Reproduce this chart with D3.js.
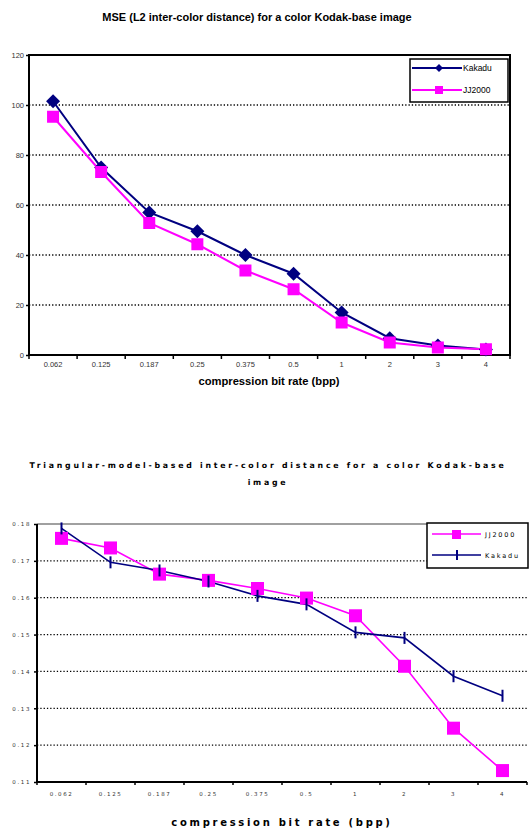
<!DOCTYPE html>
<html><head><meta charset="utf-8">
<script src="https://cdn.jsdelivr.net/npm/d3@7"></script>
<style>body{margin:0;background:#fff}svg{display:block}</style>
</head><body><svg id="c" width="529" height="829"></svg>
<script>
const categories = ["0.062","0.125","0.187","0.25","0.375","0.5","1","2","3","4"];
const mseKakadu = [101.5,75,57,49.5,40,32.5,17,6.7,3.8,2.2];
const mseJJ2000 = [95.3,73.2,52.8,44.3,33.8,26.3,13,5,3,2.3];
const mseTicks = [0,20,40,60,80,100,120];
const triJJ2000 = [0.1761,0.1735,0.1664,0.1647,0.1625,0.1599,0.1551,0.1414,0.1246,0.1131];
const triKakadu = [0.1788,0.1696,0.1674,0.1644,0.1605,0.1582,0.1506,0.1491,0.1387,0.1334];
const triTicks = [0.11,0.12,0.13,0.14,0.15,0.16,0.17,0.18];

const NAVY = "#000080", MAG = "#ff00ff";
const svg = d3.select("#c");
const diamond = r => `M0,${-r}L${r},0L0,${r}L${-r},0Z`;

// ---------- Chart 1 ----------
{
  const L=29,R=510,T=55,B=355;
  const g = svg.append("g");
  const x = d3.scaleBand().domain(categories).range([L,R]);
  const y = d3.scaleLinear().domain([0,120]).range([B,T]);
  g.append("text").attr("x",257).attr("y",21).attr("text-anchor","middle")
    .attr("font-family","Liberation Sans, Arial").attr("font-weight","bold").attr("font-size",11)
    .text("MSE (L2 inter-color distance) for a color Kodak-base image");
  g.selectAll(".gl").data(mseTicks.filter(d=>d>0&&d<120)).enter().append("line")
    .attr("x1",L).attr("x2",R).attr("y1",d=>y(d)).attr("y2",d=>y(d))
    .attr("stroke","#000").attr("stroke-width",1.3).attr("stroke-dasharray","1.3,2");
  g.append("rect").attr("x",L).attr("y",T).attr("width",R-L).attr("height",B-T)
    .attr("fill","none").attr("stroke","#000").attr("stroke-width",2);
  const ya = d3.axisLeft(y).tickValues(mseTicks).tickSize(3).tickFormat(d3.format("d"));
  const yg = g.append("g").attr("transform",`translate(${L},0)`).call(ya);
  yg.select(".domain").remove();
  yg.selectAll("line").attr("stroke","#000").attr("stroke-width",1.5);
  yg.selectAll("text").attr("font-family","Liberation Sans, Arial").attr("font-size",7.5).attr("fill","#333").attr("x",-5);
  const xa = d3.axisBottom(x).tickSize(0);
  const xg = g.append("g").attr("transform",`translate(0,${B})`).call(xa);
  xg.select(".domain").remove();
  xg.selectAll("text").attr("font-family","Liberation Sans, Arial").attr("font-size",7.5).attr("fill","#333").attr("dy","0.9em").attr("y",5);
  g.selectAll(".xt").data(d3.range(categories.length+1)).enter().append("line")
    .attr("x1",i=>L+i*x.step()).attr("x2",i=>L+i*x.step()).attr("y1",B).attr("y2",B+4)
    .attr("stroke","#000").attr("stroke-width",1.5);
  g.append("text").attr("x",269).attr("y",385).attr("text-anchor","middle")
    .attr("font-family","Liberation Sans, Arial").attr("font-weight","bold").attr("font-size",11.2)
    .text("compression bit rate (bpp)");
  const cx = d=>x(d)+x.bandwidth()/2;
  const line = d3.line().x((d,i)=>cx(categories[i])).y(d=>y(d));
  g.append("path").attr("d",line(mseKakadu)).attr("fill","none").attr("stroke",NAVY).attr("stroke-width",2);
  g.append("path").attr("d",line(mseJJ2000)).attr("fill","none").attr("stroke",MAG).attr("stroke-width",2);
  g.selectAll(".kd").data(mseKakadu).enter().append("path")
    .attr("d",diamond(7)).attr("transform",(d,i)=>`translate(${cx(categories[i])},${y(d)})`).attr("fill",NAVY);
  g.selectAll(".jj").data(mseJJ2000).enter().append("rect")
    .attr("x",(d,i)=>cx(categories[i])-6).attr("y",d=>y(d)-6).attr("width",12).attr("height",12).attr("fill",MAG);
  // legend
  g.append("rect").attr("x",410).attr("y",59).attr("width",98).attr("height",43).attr("fill","#fff").attr("stroke","#000").attr("stroke-width",1.5);
  g.append("line").attr("x1",412).attr("x2",462).attr("y1",68).attr("y2",68).attr("stroke",NAVY).attr("stroke-width",2);
  g.append("path").attr("d",diamond(4)).attr("transform","translate(439,68)").attr("fill",NAVY);
  g.append("text").attr("x",463).attr("y",71).attr("font-family","Liberation Sans, Arial").attr("font-size",8.5).text("Kakadu");
  g.append("line").attr("x1",412).attr("x2",462).attr("y1",90).attr("y2",90).attr("stroke",MAG).attr("stroke-width",2);
  g.append("rect").attr("x",435).attr("y",86).attr("width",8).attr("height",8).attr("fill",MAG);
  g.append("text").attr("x",463).attr("y",93).attr("font-family","Liberation Sans, Arial").attr("font-size",8.5).text("JJ2000");
}

// ---------- Chart 2 ----------
{
  const L=37,R=527,T=524,B=782;
  const g = svg.append("g");
  const x = d3.scaleBand().domain(categories).range([L,R]);
  const y = d3.scaleLinear().domain([0.11,0.18]).range([B,T]);
  g.append("text").attr("x",268).attr("y",468).attr("text-anchor","middle")
    .attr("font-family","DejaVu Sans, Verdana").attr("font-weight","bold").attr("font-size",7.8).attr("letter-spacing",2.75)
    .text("Triangular-model-based inter-color distance for a color Kodak-base");
  g.append("text").attr("x",268).attr("y",485).attr("text-anchor","middle")
    .attr("font-family","DejaVu Sans, Verdana").attr("font-weight","bold").attr("font-size",7.8).attr("letter-spacing",2.75)
    .text("image");
  g.selectAll(".gl").data(triTicks.filter(d=>d>0.111&&d<0.179)).enter().append("line")
    .attr("x1",L).attr("x2",R).attr("y1",d=>y(d)).attr("y2",d=>y(d))
    .attr("stroke","#000").attr("stroke-width",1.3).attr("stroke-dasharray","1.3,2");
  g.append("line").attr("x1",L).attr("x2",R).attr("y1",T).attr("y2",T).attr("stroke","#808080").attr("stroke-width",1.5);
  g.append("line").attr("x1",L).attr("x2",L).attr("y1",T).attr("y2",B).attr("stroke","#000").attr("stroke-width",2);
  g.append("line").attr("x1",L).attr("x2",R).attr("y1",B).attr("y2",B).attr("stroke","#000").attr("stroke-width",2);
  const ya = d3.axisLeft(y).tickValues(triTicks).tickSize(3).tickFormat(d3.format(".2f"));
  const yg = g.append("g").attr("transform",`translate(${L},0)`).call(ya);
  yg.select(".domain").remove();
  yg.selectAll("line").attr("stroke","#000").attr("stroke-width",1.5);
  yg.selectAll("text").attr("font-family","DejaVu Sans, Verdana").attr("font-size",5.5).attr("letter-spacing",1.6).attr("fill","#333").attr("x",-6);
  const xa = d3.axisBottom(x).tickSize(0);
  const xg = g.append("g").attr("transform",`translate(0,${B})`).call(xa);
  xg.select(".domain").remove();
  xg.selectAll("text").attr("font-family","DejaVu Sans, Verdana").attr("font-size",5.5).attr("letter-spacing",1.6).attr("fill","#333").attr("y",10);
  g.selectAll(".xt").data(d3.range(categories.length+1)).enter().append("line")
    .attr("x1",i=>L+i*x.step()).attr("x2",i=>L+i*x.step()).attr("y1",B).attr("y2",B+3)
    .attr("stroke","#000").attr("stroke-width",1.5);
  g.append("text").attr("x",282).attr("y",826).attr("text-anchor","middle")
    .attr("font-family","DejaVu Sans, Verdana").attr("font-weight","bold").attr("font-size",10).attr("letter-spacing",2.7)
    .text("compression bit rate (bpp)");
  const cx = d=>x(d)+x.bandwidth()/2;
  const line = d3.line().x((d,i)=>cx(categories[i])).y(d=>y(d));
  g.append("path").attr("d",line(triJJ2000)).attr("fill","none").attr("stroke",MAG).attr("stroke-width",1.6);
  g.append("path").attr("d",line(triKakadu)).attr("fill","none").attr("stroke",NAVY).attr("stroke-width",1.6);
  g.selectAll(".jj").data(triJJ2000).enter().append("rect")
    .attr("x",(d,i)=>cx(categories[i])-6.5).attr("y",d=>y(d)-6.5).attr("width",13).attr("height",13).attr("fill",MAG);
  g.selectAll(".kd").data(triKakadu).enter().append("line")
    .attr("x1",(d,i)=>cx(categories[i])).attr("x2",(d,i)=>cx(categories[i]))
    .attr("y1",d=>y(d)-6).attr("y2",d=>y(d)+6).attr("stroke",NAVY).attr("stroke-width",2);
  // legend
  g.append("rect").attr("x",427).attr("y",523).attr("width",101).attr("height",45).attr("fill","#fff").attr("stroke","#000").attr("stroke-width",1.5);
  g.append("line").attr("x1",432).attr("x2",481).attr("y1",534).attr("y2",534).attr("stroke",MAG).attr("stroke-width",1.6);
  g.append("rect").attr("x",452).attr("y",530).attr("width",9).attr("height",9).attr("fill",MAG);
  g.append("text").attr("x",485).attr("y",536.5).attr("font-family","DejaVu Sans, Verdana").attr("font-size",6.5).attr("letter-spacing",1.8).text("JJ2000");
  g.append("line").attr("x1",432).attr("x2",481).attr("y1",555).attr("y2",555).attr("stroke",NAVY).attr("stroke-width",1.6);
  g.append("line").attr("x1",457).attr("x2",457).attr("y1",550).attr("y2",560).attr("stroke",NAVY).attr("stroke-width",2);
  g.append("text").attr("x",485).attr("y",557.5).attr("font-family","DejaVu Sans, Verdana").attr("font-size",6.5).attr("letter-spacing",1.8).text("Kakadu");
}
</script></body></html>
